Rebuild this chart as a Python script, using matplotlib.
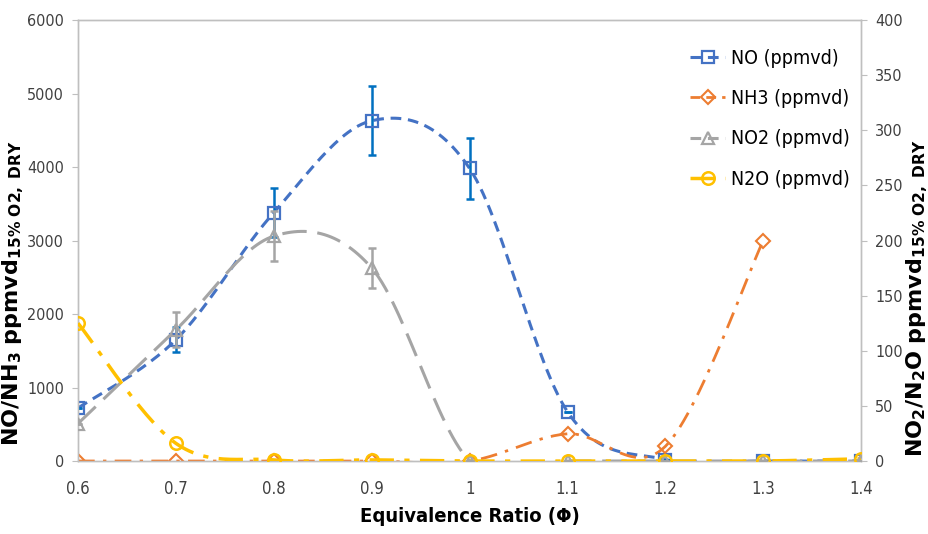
import numpy as np
import matplotlib
matplotlib.use('Agg')
import matplotlib.pyplot as plt
from matplotlib.lines import Line2D
from matplotlib import font_manager

# data
phi = [0.6, 0.7, 0.8, 0.9, 1.0, 1.1, 1.2, 1.3, 1.4]
no_ppm = [720, 1650, 3380, 4630, 3980, 670, 20, 0, 0]
no_err = [0, 170, 330, 470, 410, 0, 0, 0, 0]
nh3_phi = [0.6, 0.7, 0.8, 0.9, 1.0, 1.1, 1.2, 1.3]
nh3_ppm = [0, 0, 0, 0, 0, 370, 200, 3000]
no2_ppm = [34, 119, 204, 175, 0, 0, 0, 0, 0]
no2_err = [0, 16, 23, 18, 0, 0, 0, 0, 0]
n2o_ppm = [125, 16, 1, 1, 0, 0, 0, 0, 2]
x_ticklabels = ['0.6', '0.7', '0.8', '0.9', '1', '1.1', '1.2', '1.3', '1.4']

plt.rcParams['font.family'] = ['DejaVu Sans']
plt.rcParams['mathtext.fontset'] = 'dejavusans'
stretches = {f.stretch for f in font_manager.fontManager.ttflist if f.name == 'DejaVu Sans'}
COND = 'condensed' if 'condensed' in stretches else 'normal'

C_NO = '#4472C4'
C_NH3 = '#ED7D31'
C_NO2 = '#A5A5A5'
C_N2O = '#FFC000'
C_ERR = '#0070C0'
AXC = '#BFBFBF'
TXT = '#404040'


def smooth_line(ax, xs, ys, n=30, **kw):
    """Excel-style smoothed line (Bezier through the points, screen-like space)."""
    x0, x1 = ax.get_xlim()
    y0, y1 = ax.get_ylim()
    px = (np.asarray(xs) - x0) / (x1 - x0) * 783
    py = (np.asarray(ys) - y0) / (y1 - y0) * 441
    pts = np.column_stack([px, py])
    ext = np.vstack([pts[0], pts, pts[-1]])
    out = []
    for i in range(1, len(ext) - 2):
        p0, p1, p2, p3 = ext[i - 1], ext[i], ext[i + 1], ext[i + 2]
        t = np.linspace(0, 1, n)[:, None]
        c1 = p1 + (p2 - p0) / 6
        c2 = p2 - (p3 - p1) / 6
        seg = ((1 - t) ** 3) * p1 + 3 * ((1 - t) ** 2) * t * c1 + 3 * (1 - t) * t ** 2 * c2 + t ** 3 * p2
        out.append(seg if i == 1 else seg[1:])
    out = np.vstack(out)
    ax.plot(out[:, 0] / 783 * (x1 - x0) + x0, out[:, 1] / 441 * (y1 - y0) + y0, **kw)


fig = plt.figure(figsize=(9.29, 5.34), dpi=100)
ax = fig.add_axes([0.084, 0.1367, 0.843, 0.8258])
ax2 = ax.twinx()

ax.set_xlim(0.6, 1.4)
ax.set_ylim(0, 6000)
ax2.set_ylim(0, 400)

# primary axis: NO and NH3
smooth_line(ax, phi, no_ppm, color=C_NO, lw=2.2, dashes=(3.5, 2.2), zorder=3)
ax.errorbar(phi, no_ppm, yerr=no_err, fmt='none', ecolor=C_ERR, elinewidth=1.8,
            capsize=3, capthick=1.8, zorder=4)
ax.plot(phi, no_ppm, 's', ms=9, mfc='none', mec=C_NO, mew=1.6, zorder=5)

smooth_line(ax, nh3_phi, nh3_ppm, color=C_NH3, lw=2.0, dashes=(6, 3, 1.2, 3), zorder=3)
ax.plot(nh3_phi, nh3_ppm, 'D', ms=7, mfc='none', mec=C_NH3, mew=1.5, zorder=5)

# secondary axis: NO2 and N2O
smooth_line(ax2, phi, no2_ppm, color=C_NO2, lw=2.2, dashes=(8, 3.5), zorder=3)
ax2.errorbar(phi, no2_ppm, yerr=no2_err, fmt='none', ecolor=C_NO2, elinewidth=1.8,
             capsize=3, capthick=1.8, zorder=4)
ax2.plot(phi, no2_ppm, '^', ms=9, mfc='none', mec=C_NO2, mew=1.6, zorder=5)

smooth_line(ax2, phi, n2o_ppm, color=C_N2O, lw=2.5, dashes=(7, 3, 1.5, 3), zorder=3)
ax2.plot(phi, n2o_ppm, 'o', ms=9, mfc='none', mec=C_N2O, mew=1.8, zorder=6)

# axes styling
for a in (ax, ax2):
    for s in a.spines.values():
        s.set_color(AXC)
        s.set_linewidth(1.0)
ax.set_xticks(phi)
ax.set_xticklabels(x_ticklabels)
ax.set_yticks(np.arange(0, 6001, 1000))
ax2.set_yticks(np.arange(0, 401, 50))
ax.tick_params(axis='x', length=0, pad=14, labelsize=12, labelcolor=TXT)
ax.tick_params(axis='y', length=4, color=AXC, labelsize=11.5, labelcolor=TXT, pad=6)
ax2.tick_params(axis='y', length=4, color=AXC, labelsize=11.5, labelcolor=TXT, pad=6)
for lab in ax.get_xticklabels() + ax.get_yticklabels() + ax2.get_yticklabels():
    lab.set_fontstretch(COND)

ax.set_xlabel('Equivalence Ratio (\u03a6)', fontsize=14.5, fontweight='bold',
              fontstretch=COND, labelpad=6)
ax.set_ylabel(r'$\mathbf{NO/NH_3\ ppmvd_{15\%\ O2,\ DRY}}$', fontsize=16)
ax2.set_ylabel(r'$\mathbf{NO_2/N_2O\ ppmvd_{15\%\ O2,\ DRY}}$', fontsize=16)
ax.yaxis.set_label_coords(-0.067, 0.38)
ax2.yaxis.set_label_coords(1.055, 0.37)

handles = [
    Line2D([], [], color=C_NO, lw=2.2, dashes=(3.5, 2.2), marker='s', ms=9, mfc='none', mew=1.6),
    Line2D([], [], color=C_NH3, lw=2.0, dashes=(3.5, 2.2), marker='D', ms=7, mfc='none', mew=1.5),
    Line2D([], [], color=C_NO2, lw=2.2, dashes=(3.5, 2.2), marker='^', ms=9, mfc='none', mew=1.6),
    Line2D([], [], color=C_N2O, lw=2.5, dashes=(7, 3, 1.5, 3), marker='o', ms=9, mfc='none', mew=1.8),
]
labels = ['NO (ppmvd)', 'NH3 (ppmvd)', 'NO2 (ppmvd)', 'N2O (ppmvd)']
leg = ax2.legend(handles, labels, loc='upper right', bbox_to_anchor=(1.008, 0.975),
                 frameon=False, prop={'size': 14, 'stretch': COND}, handlelength=1.8,
                 labelspacing=1.1, handletextpad=0.3)
leg.set_zorder(10)

fig.savefig('out.png', dpi=100)
